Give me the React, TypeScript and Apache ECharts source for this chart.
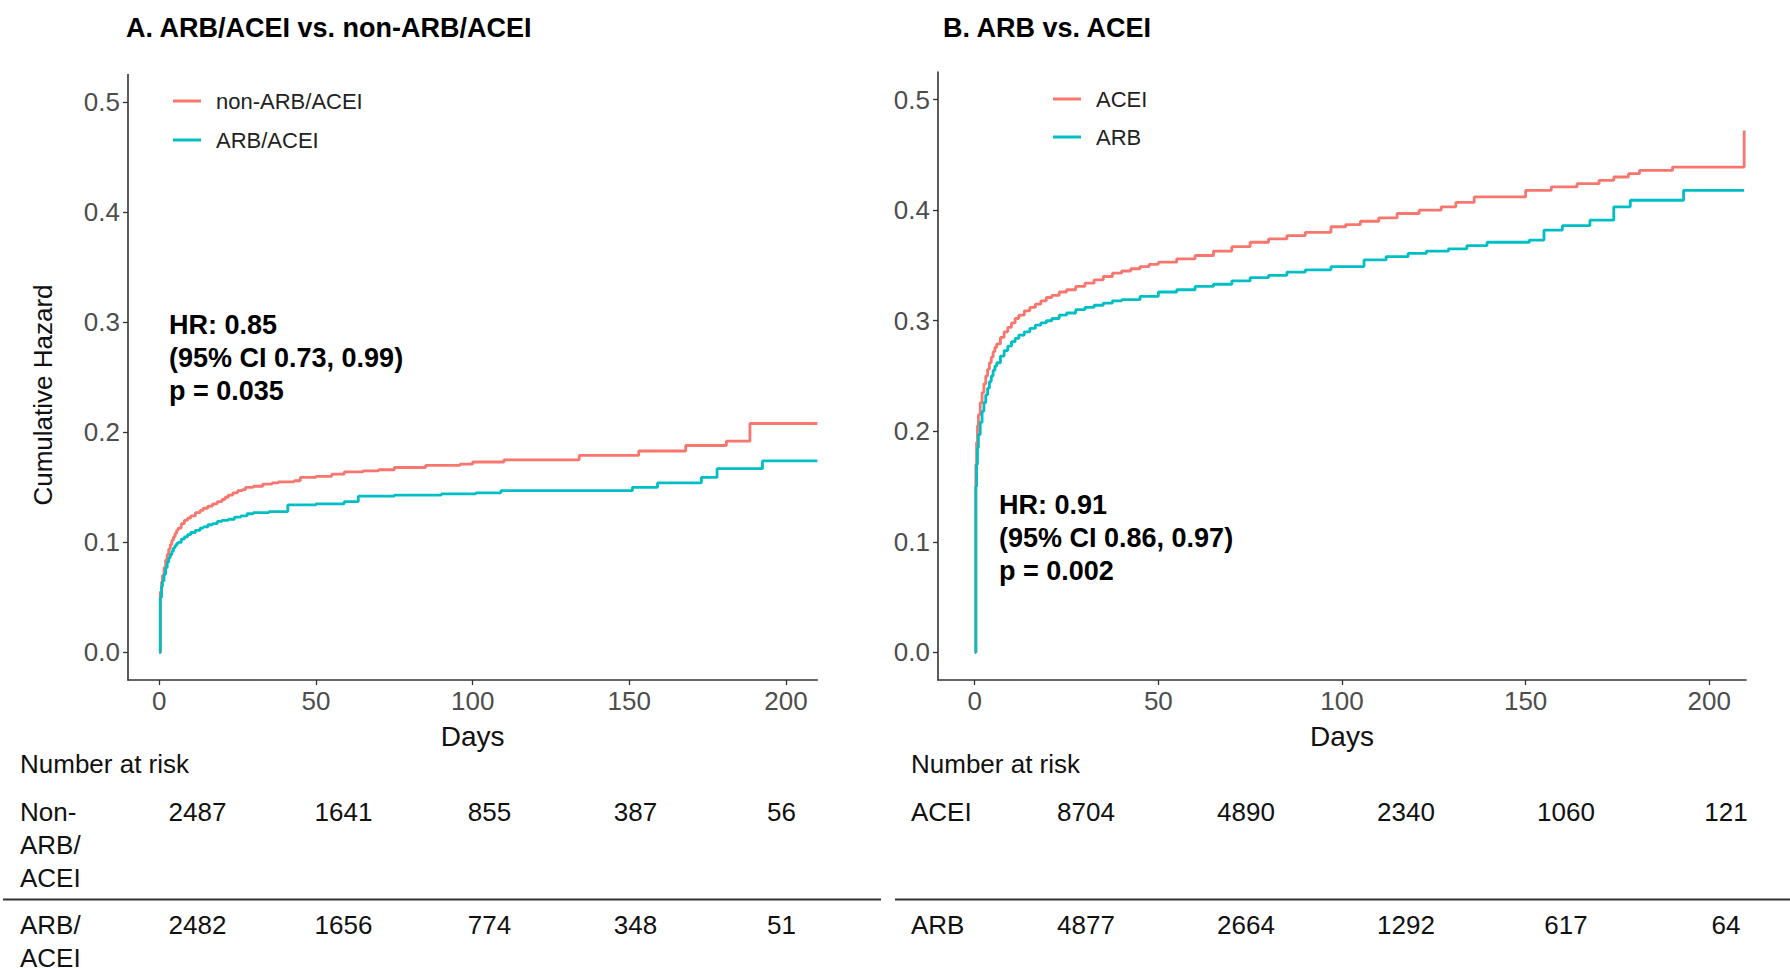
import React, { useEffect, useRef } from "react";
import * as echarts from "echarts";

const FONT = '"Liberation Sans", Arial, Helvetica, sans-serif';
const RED = "#F8766D";
const TEAL = "#00BFC4";

// ---- Panel A: ARB/ACEI vs non-ARB/ACEI (cumulative hazard, step curves)
const aNonDays = [0, 0.3, 0.7, 1, 1.5, 2, 2.5, 3, 3.5, 4, 4.5, 5, 5.5, 6, 7, 8, 9, 10, 11.5, 13, 14, 15.5, 17, 18.5, 20, 21, 22, 23.5, 25, 26.5, 27.5, 30, 33, 36, 38, 43, 45, 50, 55, 59, 65, 70, 75, 85, 96, 100, 110, 134, 153, 168, 181, 188.5, 210];
const aNonHaz = [0, 0.055, 0.064, 0.07, 0.077, 0.084, 0.089, 0.094, 0.098, 0.102, 0.105, 0.108, 0.111, 0.113, 0.117, 0.12, 0.122, 0.124, 0.127, 0.129, 0.131, 0.133, 0.135, 0.137, 0.139, 0.141, 0.143, 0.145, 0.147, 0.148, 0.15, 0.151, 0.153, 0.154, 0.155, 0.156, 0.159, 0.16, 0.162, 0.164, 0.165, 0.166, 0.168, 0.17, 0.171, 0.173, 0.175, 0.179, 0.183, 0.188, 0.192, 0.208, 0.208];
const aArbDays = [0, 0.3, 0.7, 1, 1.5, 2, 2.5, 3, 3.5, 4, 4.5, 5, 5.5, 6, 7, 8, 9, 10, 11.5, 13, 14, 15.5, 17, 18.5, 20, 22, 24, 26, 28, 30, 35, 41, 50, 59, 63.5, 75, 90, 101, 109, 151, 159, 173, 178, 192.5, 210];
const aArbHaz = [0, 0.05, 0.06, 0.065, 0.071, 0.077, 0.082, 0.086, 0.089, 0.092, 0.095, 0.097, 0.099, 0.1, 0.103, 0.105, 0.107, 0.109, 0.111, 0.113, 0.114, 0.116, 0.117, 0.119, 0.12, 0.121, 0.123, 0.124, 0.126, 0.127, 0.128, 0.134, 0.135, 0.137, 0.142, 0.143, 0.144, 0.145, 0.147, 0.15, 0.154, 0.159, 0.167, 0.174, 0.174];

// ---- Panel B: ARB vs ACEI
const bAceiDays = [0, 0.3, 0.5, 0.75, 1, 1.5, 2, 2.5, 3, 3.5, 4, 4.5, 5, 5.5, 6, 7, 8, 9, 10, 11, 12, 13.5, 15, 16.5, 18, 19.5, 21, 23, 25, 27.5, 30, 32.5, 35, 37.5, 40, 42.5, 45, 47.5, 50, 55, 60, 65, 70, 75, 80, 85, 90, 97, 101, 105, 110, 115, 121, 127, 131, 136, 150, 157, 164, 170, 174, 178, 181, 190, 209.5];
const bAceiHaz = [0, 0.17, 0.19, 0.205, 0.215, 0.226, 0.235, 0.243, 0.25, 0.256, 0.262, 0.267, 0.272, 0.276, 0.279, 0.285, 0.29, 0.294, 0.298, 0.302, 0.305, 0.309, 0.312, 0.315, 0.318, 0.321, 0.323, 0.326, 0.328, 0.331, 0.334, 0.337, 0.34, 0.343, 0.345, 0.347, 0.349, 0.351, 0.353, 0.356, 0.359, 0.363, 0.367, 0.371, 0.374, 0.377, 0.38, 0.385, 0.387, 0.39, 0.393, 0.397, 0.4, 0.403, 0.407, 0.412, 0.418, 0.421, 0.424, 0.427, 0.43, 0.433, 0.436, 0.439, 0.472];
const bArbDays = [0, 0.3, 0.5, 0.75, 1, 1.5, 2, 2.5, 3, 3.5, 4, 4.5, 5, 5.5, 6, 7, 8, 9, 10, 11, 12, 13.5, 15, 16.5, 18, 19.5, 21, 23, 25, 27.5, 30, 32.5, 35, 37.5, 40, 45, 50, 55, 60, 65, 70, 75, 80, 85, 90, 97, 106, 112, 118, 123, 129, 134, 139.5, 151, 155, 160, 167.5, 174, 178.5, 193, 209.5];
const bArbHaz = [0, 0.15, 0.17, 0.185, 0.197, 0.208, 0.218, 0.226, 0.233, 0.239, 0.245, 0.25, 0.255, 0.259, 0.262, 0.268, 0.273, 0.277, 0.281, 0.284, 0.287, 0.29, 0.293, 0.296, 0.298, 0.3, 0.302, 0.305, 0.307, 0.31, 0.312, 0.314, 0.316, 0.318, 0.319, 0.322, 0.326, 0.328, 0.331, 0.333, 0.336, 0.339, 0.341, 0.344, 0.346, 0.349, 0.355, 0.358, 0.361, 0.363, 0.365, 0.368, 0.371, 0.373, 0.382, 0.386, 0.391, 0.403, 0.409, 0.418, 0.418];

// ---- Axis ticks
const yTicks = [0, 0.1, 0.2, 0.3, 0.4, 0.5];
const xTicks = [0, 50, 100, 150, 200];

// ---- Number at risk tables
const riskANon = [2487, 1641, 855, 387, 56];
const riskAArb = [2482, 1656, 774, 348, 51];
const riskBAcei = [8704, 4890, 2340, 1060, 121];
const riskBArb = [4877, 2664, 1292, 617, 64];

// ---- Text
const titleA = "A. ARB/ACEI vs. non-ARB/ACEI";
const titleB = "B. ARB vs. ACEI";
const hrA = ["HR: 0.85", "(95% CI 0.73, 0.99)", "p = 0.035"];
const hrB = ["HR: 0.91", "(95% CI 0.86, 0.97)", "p = 0.002"];

const zip = (xs: number[], ys: number[]) => xs.map((x, i) => [x, ys[i]]);

function App() {
  const ref = useRef<HTMLDivElement>(null);

  useEffect(() => {
    if (!ref.current) return;
    const chart = echarts.init(ref.current, null, { renderer: "svg" });

    const xAxis = (gridIndex: number) => ({
      type: "value",
      gridIndex,
      min: -10,
      max: 210,
      axisLine: { show: true, onZero: false, lineStyle: { color: "#333", width: 1.6 } },
      axisTick: { show: true, length: 5, customValues: xTicks, lineStyle: { color: "#333", width: 1.3 } },
      axisLabel: { customValues: xTicks, margin: 8, fontSize: 26, color: "#4D4D4D", fontFamily: FONT },
      splitLine: { show: false },
      name: "Days",
      nameLocation: "middle",
      nameGap: 42,
      nameTextStyle: { fontSize: 28, color: "#111", fontFamily: FONT },
    });
    const yAxis = (gridIndex: number) => ({
      type: "value",
      gridIndex,
      min: -0.025,
      max: 0.525,
      axisLine: { show: true, onZero: false, lineStyle: { color: "#333", width: 1.6 } },
      axisTick: { show: true, length: 5, customValues: yTicks, lineStyle: { color: "#333", width: 1.3 } },
      axisLabel: {
        customValues: yTicks,
        margin: 8,
        fontSize: 26,
        color: "#4D4D4D",
        fontFamily: FONT,
        formatter: (v: number) => v.toFixed(1),
      },
      splitLine: { show: false },
    });

    const line = (name: string, xi: number, days: number[], haz: number[], color: string) => ({
      type: "line",
      name,
      xAxisIndex: xi,
      yAxisIndex: xi,
      step: "end",
      showSymbol: false,
      symbol: "none",
      color,
      itemStyle: { color },
      lineStyle: { color, width: 2.8 },
      data: zip(days, haz),
      silent: true,
    });

    const legend = (name: string, left: number, cy: number) => ({
      data: [name],
      left,
      top: cy - 12,
      padding: 0,
      icon: "rect",
      itemWidth: 28,
      itemHeight: 3,
      selectedMode: false,
      textStyle: { fontSize: 22, lineHeight: 24, color: "#222", fontFamily: FONT, padding: [0, 0, 0, 10] },
    });

    const txt = (text: string, x: number, y: number, opts: any = {}) => ({
      type: "text",
      x,
      y,
      rotation: opts.rotation || 0,
      silent: true,
      style: {
        text,
        fill: opts.fill || "#111",
        fontSize: opts.fontSize || 26,
        fontWeight: opts.fontWeight || "normal",
        fontFamily: FONT,
        lineHeight: opts.lineHeight || 33,
        textAlign: opts.align || "left",
        textVerticalAlign: opts.valign || "middle",
      },
    });

    const colA = (i: number) => 197.5 + i * 146;
    const colB = (i: number) => 1086 + i * 160;

    const graphics: any[] = [
      txt(titleA, 126, 28, { fontWeight: "bold", fill: "#000", fontSize: 27 }),
      txt(titleB, 943, 28, { fontWeight: "bold", fill: "#000", fontSize: 27 }),
      txt("Cumulative Hazard", 43, 395, { rotation: Math.PI / 2, align: "center", fontSize: 26 }),
      txt(hrA.join("\n"), 169, 308.5, { fontWeight: "bold", valign: "top", fill: "#000", fontSize: 27 }),
      txt(hrB.join("\n"), 999, 488, { fontWeight: "bold", valign: "top", fill: "#000", fontSize: 27 }),
      // risk tables
      txt("Number at risk", 20, 764),
      txt("Non-\nARB/\nACEI", 20, 795.2, { valign: "top" }),
      txt("ARB/\nACEI", 20, 908.5, { valign: "top" }),
      txt("Number at risk", 911, 764),
      txt("ACEI", 911, 812),
      txt("ARB", 911, 925),
      {
        type: "line",
        silent: true,
        shape: { x1: 3, y1: 899.5, x2: 881, y2: 899.5 },
        style: { stroke: "#333", lineWidth: 2 },
      },
      {
        type: "line",
        silent: true,
        shape: { x1: 895, y1: 899.5, x2: 1790, y2: 899.5 },
        style: { stroke: "#333", lineWidth: 2 },
      },
    ];
    riskANon.forEach((v, i) => graphics.push(txt(String(v), colA(i), 812, { align: "center" })));
    riskAArb.forEach((v, i) => graphics.push(txt(String(v), colA(i), 925, { align: "center" })));
    riskBAcei.forEach((v, i) => graphics.push(txt(String(v), colB(i), 812, { align: "center" })));
    riskBArb.forEach((v, i) => graphics.push(txt(String(v), colB(i), 925, { align: "center" })));

    chart.setOption({
      animation: false,
      backgroundColor: "#fff",
      textStyle: { fontFamily: FONT },
      grid: [
        { left: 128, top: 74.5, width: 689.3, height: 605.5, outerBoundsMode: "none", containLabel: false },
        { left: 938, top: 72, width: 808, height: 608, outerBoundsMode: "none", containLabel: false },
      ],
      xAxis: [xAxis(0), xAxis(1)],
      yAxis: [yAxis(0), yAxis(1)],
      legend: [
        legend("non-ARB/ACEI", 173, 101),
        legend("ARB/ACEI", 173, 140),
        legend("ACEI", 1053, 99),
        legend("ARB", 1053, 137),
      ],
      series: [
        line("non-ARB/ACEI", 0, aNonDays, aNonHaz, RED),
        line("ARB/ACEI", 0, aArbDays, aArbHaz, TEAL),
        line("ACEI", 1, bAceiDays, bAceiHaz, RED),
        line("ARB", 1, bArbDays, bArbHaz, TEAL),
      ],
      graphic: graphics,
    });

    return () => chart.dispose();
  }, []);

  return (
    <div
      ref={ref}
      style={{ position: "fixed", left: 0, top: 0, width: 1790, height: 969, background: "#fff" }}
    />
  );
}

export default App;
